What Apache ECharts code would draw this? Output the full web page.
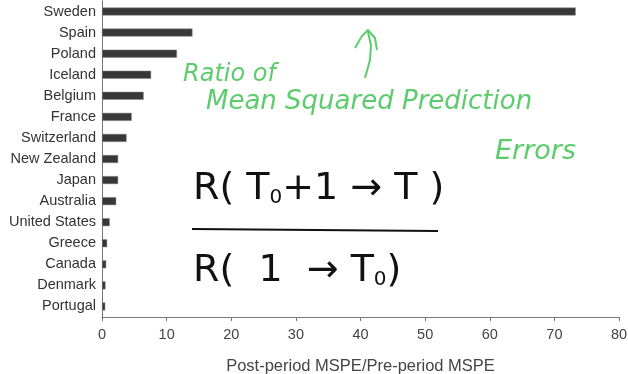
<!DOCTYPE html>
<html><head><meta charset="utf-8">
<script src="https://cdn.jsdelivr.net/npm/echarts@6/dist/echarts.min.js"></script>
<style>html,body{margin:0;padding:0;background:#fff}#c{width:628px;height:374px}</style>
</head><body><div id="c"></div>
<script>
var countries = ['Sweden','Spain','Poland','Iceland','Belgium','France','Switzerland','New Zealand','Japan','Australia','United States','Greece','Canada','Denmark','Portugal'];
var ratios = [73.3, 14.0, 11.6, 7.6, 6.45, 4.6, 3.8, 2.5, 2.5, 2.2, 1.2, 0.8, 0.65, 0.55, 0.5];
var xTicks = [0, 10, 20, 30, 40, 50, 60, 70, 80];
var xName = 'Post-period MSPE/Pre-period MSPE';
var noteLines = ['Ratio of', 'Mean Squared Prediction', 'Errors'];

var chart = echarts.init(document.getElementById('c'));
var green = '#5ccc6c';
chart.setOption({
  animation: false,
  grid: {left: 102, right: 9, top: 1, bottom: 57, containLabel: false, outerBoundsMode: 'none'},
  xAxis: {
    type: 'value', min: xTicks[0], max: xTicks[xTicks.length-1], interval: 10,
    splitLine: {show: false},
    axisLine: {show: true, lineStyle: {color: '#777', width: 1}},
    axisTick: {show: true, length: 4, lineStyle: {color: '#777'}},
    axisLabel: {color: '#444', fontSize: 14.5, margin: 10, fontFamily: 'Liberation Sans'},
    name: xName, nameLocation: 'middle', nameGap: 41,
    nameTextStyle: {color: '#444', fontSize: 16.5, fontFamily: 'Liberation Sans'}
  },
  yAxis: {
    type: 'category', data: countries, inverse: true,
    axisLine: {show: true, lineStyle: {color: '#777', width: 1}},
    axisTick: {show: false},
    axisLabel: {color: '#333', fontSize: 14.5, margin: 6, fontFamily: 'Liberation Sans'}
  },
  series: [{
    type: 'bar', data: ratios, barWidth: 8,
    itemStyle: {color: '#383838', borderColor: '#888', borderWidth: 0.5}
  }],
  graphic: [
    {type: 'text', left: 183, top: 63, style: {text: noteLines[0], fill: green, font: 'italic 24px "DejaVu Sans"'}},
    {type: 'text', left: 206, top: 89, style: {text: noteLines[1], fill: green, font: 'italic 26px "DejaVu Sans"'}},
    {type: 'text', left: 495, top: 138, style: {text: noteLines[2], fill: green, font: 'italic 27px "DejaVu Sans"'}},
    {type: 'polyline', shape: {points: [[365,78],[370,60],[371,45],[368,32]]}, style: {stroke: green, lineWidth: 2, fill: null}},
    {type: 'polyline', shape: {points: [[355,48],[362,36],[368,30],[375,38],[377,50]]}, style: {stroke: green, lineWidth: 2, fill: null}},
    {type: 'text', left: 193, top: 170, style: {
      text: '{a|R( T}{s|0}{a|+1 → T )}',
      rich: {a: {fontSize: 38, fontFamily: 'DejaVu Sans', fill: '#111'}, s: {fontSize: 20, fontFamily: 'DejaVu Sans', fill: '#111', verticalAlign: 'bottom', padding: [14,0,0,0]}}
    }},
    {type: 'line', shape: {x1: 192, y1: 229, x2: 438, y2: 231}, style: {stroke: '#111', lineWidth: 2}},
    {type: 'text', left: 193, top: 252, style: {
      text: '{a|R(  1  → T}{s|0}{a|)}',
      rich: {a: {fontSize: 38, fontFamily: 'DejaVu Sans', fill: '#111'}, s: {fontSize: 20, fontFamily: 'DejaVu Sans', fill: '#111', verticalAlign: 'bottom', padding: [14,0,0,0]}}
    }}
  ]
});
</script></body></html>
